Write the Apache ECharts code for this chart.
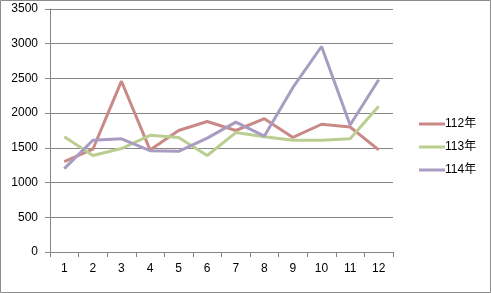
<!DOCTYPE html>
<html><head><meta charset="utf-8">
<script src="https://cdn.jsdelivr.net/npm/echarts@6/dist/echarts.min.js"></script>
<style>html,body{margin:0;padding:0;background:#fff}#c{width:491px;height:293px}</style>
</head><body><div id="c"></div>
<script>
const categories = ['1','2','3','4','5','6','7','8','9','10','11','12'];
const s112 = [1300, 1480, 2460, 1470, 1750, 1880, 1750, 1920, 1650, 1840, 1800, 1470];
const s113 = [1660, 1390, 1490, 1680, 1650, 1390, 1720, 1660, 1610, 1610, 1630, 2100];
const s114 = [1200, 1610, 1630, 1460, 1450, 1640, 1870, 1670, 2370, 2960, 1830, 2480];
const names = ['112年', '113年', '114年'];
const colors = ['#C98A87', '#B9CE90', '#A99CC2'];
const font = '"Liberation Sans", Arial, "Noto Sans CJK TC", sans-serif';

const chart = echarts.init(document.getElementById('c'));
const mk = (name, data, color) => ({
  name, type: 'line', data, symbol: 'none', smooth: false,
  lineStyle: { color, width: 3 }, itemStyle: { color }
});
chart.setOption({
  animation: false,
  textStyle: { fontFamily: font },
  graphic: [{ type: 'rect', shape: { x: 0.5, y: 0.5, width: 490, height: 292 },
    style: { fill: 'none', stroke: '#8c8c8c', lineWidth: 1 }, silent: true }],
  grid: { left: 50, right: 98, top: 9, bottom: 41 },
  legend: {
    orient: 'vertical', left: 414, top: 113, itemGap: 11,
    itemWidth: 26, itemHeight: 3, icon: 'rect',
    textStyle: { fontSize: 12, color: '#000', fontFamily: font, padding: [0, 0, 0, -5] },
    data: names
  },
  xAxis: {
    type: 'category', data: categories, boundaryGap: true,
    axisLine: { lineStyle: { color: '#868686' } },
    axisTick: { show: true, length: 5, inside: false, lineStyle: { color: '#868686' } },
    axisLabel: { color: '#000', fontSize: 12, margin: 11, fontFamily: font },
    splitLine: { show: false }
  },
  yAxis: {
    type: 'value', min: 0, max: 3500, interval: 500,
    axisLine: { show: true, lineStyle: { color: '#868686' } },
    axisTick: { show: true, length: 5, lineStyle: { color: '#868686' } },
    axisLabel: { color: '#000', fontSize: 12, margin: 12, fontFamily: font, formatter: v => String(v) },
    splitLine: { lineStyle: { color: '#868686' } }
  },
  series: [mk(names[0], s112, colors[0]), mk(names[1], s113, colors[1]), mk(names[2], s114, colors[2])]
});
</script></body></html>
